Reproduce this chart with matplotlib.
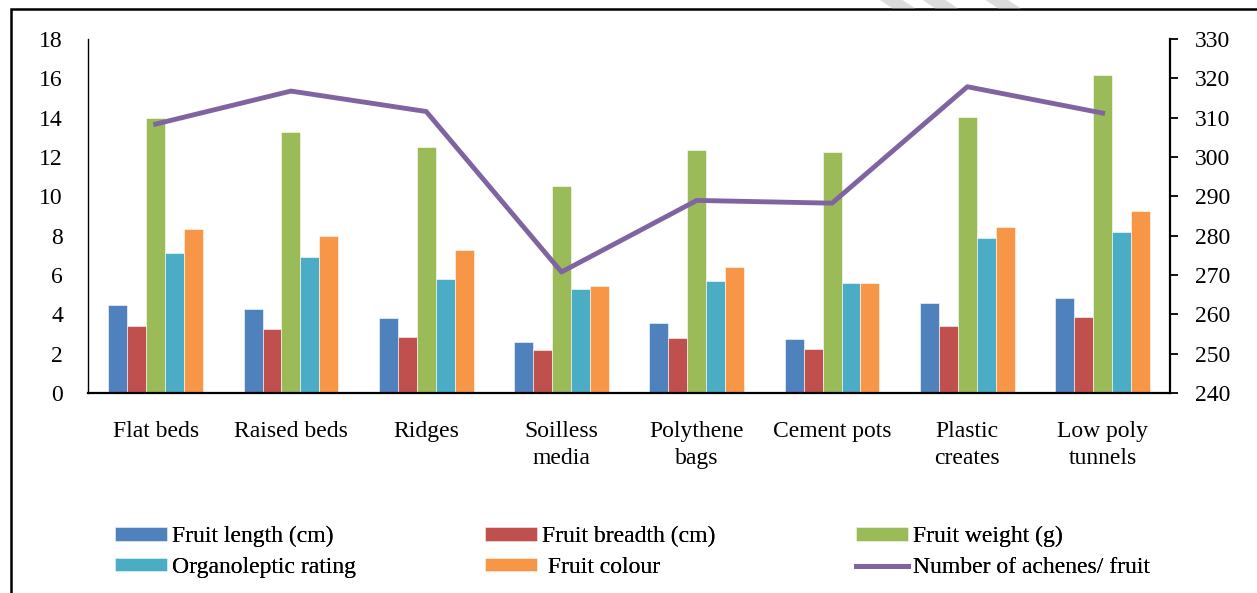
import numpy as np
import matplotlib
matplotlib.use("Agg")
import matplotlib.pyplot as plt
from matplotlib.patches import Polygon, Rectangle

plt.rcParams["font.family"] = ["Liberation Serif", "DejaVu Serif"]

# Data
categories = ["Flat beds", "Raised beds", "Ridges", "Soilless\nmedia",
              "Polythene\nbags", "Cement pots", "Plastic\ncreates", "Low poly\ntunnels"]
fruit_length = [4.47, 4.27, 3.81, 2.59, 3.56, 2.75, 4.58, 4.83]
fruit_breadth = [3.40, 3.25, 2.85, 2.19, 2.80, 2.24, 3.40, 3.86]
fruit_weight = [13.98, 13.27, 12.50, 10.52, 12.35, 12.25, 14.03, 16.20]
organoleptic = [7.12, 6.91, 5.80, 5.29, 5.69, 5.59, 7.88, 8.18]
fruit_colour = [8.34, 7.98, 7.27, 5.44, 6.40, 5.59, 8.44, 9.25]
achenes = [308.4, 316.8, 311.6, 270.8, 289.0, 288.3, 317.9, 311.2]

bar_series = [
    ("Fruit length (cm)", fruit_length, "#4f81bd"),
    ("Fruit breadth (cm)", fruit_breadth, "#c0504d"),
    ("Fruit weight (g)", fruit_weight, "#9bbb59"),
    ("Organoleptic rating", organoleptic, "#4bacc6"),
    (" Fruit colour", fruit_colour, "#f79646"),
]

fs = 17

fig = plt.figure(figsize=(12.57, 5.93), dpi=100)
ax = fig.add_axes([0.070, 0.337, 0.861, 0.597])
ax2 = ax.twinx()

x = np.arange(len(categories))
w = 0.14
handles = {}
for i, (name, vals, col) in enumerate(bar_series):
    b = ax.bar(x + (i - 2) * w, vals, w, color=col, edgecolor="white", linewidth=0.4, label=name)
    handles[name] = b

line, = ax2.plot(x, achenes, color="#8064a2", linewidth=3.5, label="Number of achenes/ fruit")
handles["Number of achenes/ fruit"] = line

ax.set_xlim(-0.5, len(categories) - 0.5)
ax.set_ylim(0, 18)
ax.set_yticks(range(0, 19, 2))
ax2.set_ylim(240, 330)
ax2.set_yticks(range(240, 331, 10))

ax.set_xticks(x)
ax.set_xticklabels(categories, fontsize=fs, linespacing=1.4)
ax.tick_params(axis="x", length=0, pad=20)
ax.tick_params(axis="y", length=0, labelsize=fs, pad=18)
ax2.tick_params(axis="y", direction="out", length=6, width=1.3, labelsize=fs, pad=12)

for a in (ax, ax2):
    a.spines["top"].set_visible(False)
ax2.spines["left"].set_visible(False)
ax2.spines["bottom"].set_visible(False)
ax.spines["right"].set_visible(False)
ax.spines["left"].set_linewidth(1.0)
ax.spines["bottom"].set_linewidth(1.6)
ax2.spines["right"].set_linewidth(1.6)

# legend: three columns placed separately, two rows each
legend_cols = [
    (0.0915, ["Fruit length (cm)", "Organoleptic rating"]),
    (0.386, ["Fruit breadth (cm)", " Fruit colour"]),
    (0.681, ["Fruit weight (g)", "Number of achenes/ fruit"]),
]
for xpos, names in legend_cols:
    leg = fig.legend([handles[n] for n in names], names, loc="center left",
                     bbox_to_anchor=(xpos, 0.069), frameon=False, fontsize=fs,
                     handlelength=2.2, handletextpad=0.2, labelspacing=0.42,
                     handleheight=0.5, borderpad=0, borderaxespad=0)
    fig.add_artist(leg)

# outer frame of the chart area
fig.add_artist(Rectangle((0.009, -0.1), 1.2, 1.085, transform=fig.transFigure,
                         fill=False, edgecolor="black", linewidth=1.8))

# faint watermark strokes above the frame
for x0 in (0.700, 0.734, 0.784):
    fig.add_artist(Polygon([(x0, 1.0), (x0 + 0.018, 1.0), (x0 + 0.028, 0.986), (x0 + 0.010, 0.986)],
                           closed=True, transform=fig.transFigure, color="#dcdcdc", lw=0))

fig.savefig("out.png", dpi=100)
